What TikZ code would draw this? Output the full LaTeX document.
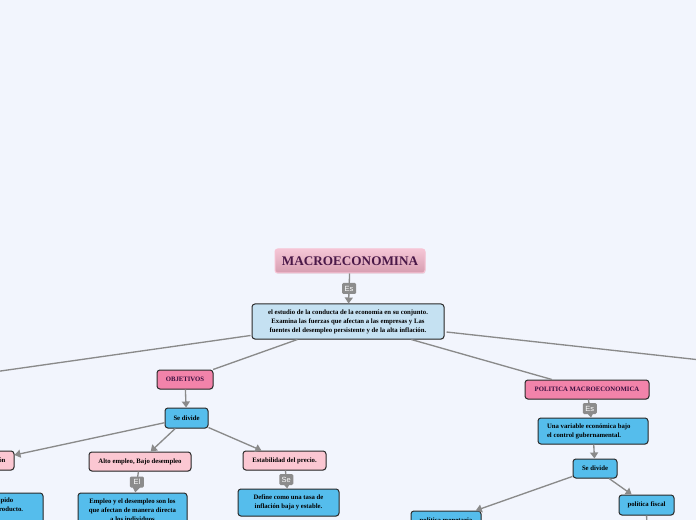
\documentclass[tikz,border=0pt]{standalone}
\usepackage{fontspec}
\setmainfont{Liberation Serif}
\newfontfamily\lblfont{Liberation Sans}
\usetikzlibrary{arrows.meta,calc,shadows}
\definecolor{bg}{HTML}{F2F5FD}
\definecolor{linegray}{HTML}{8A8A8A}
\definecolor{lblgray}{HTML}{8C8C8C}
\definecolor{boxborder}{HTML}{2A2A2A}
\definecolor{mainfill}{HTML}{C5E1F2}
\definecolor{bluefill}{HTML}{55BDEC}
\definecolor{pinkfill}{HTML}{F283AA}
\definecolor{lightpink}{HTML}{FBC7D2}
\definecolor{titletop}{HTML}{F5C6D6}
\definecolor{titlebot}{HTML}{D69DB0}
\definecolor{titleborder}{HTML}{F7C3D4}
\definecolor{titletext}{HTML}{4A1848}
\definecolor{objtext}{HTML}{3A1040}
\begin{document}
\begin{tikzpicture}[x=0.75pt,y=-0.75pt,
  base/.style={rectangle, rounded corners=2.2pt, draw=boxborder, line width=0.75pt,
    inner sep=0pt, align=center, text=black,
    font=\fontsize{5.05pt}{6.7pt}\selectfont\bfseries,
    drop shadow={opacity=0.18, shadow xshift=0.4pt, shadow yshift=-0.7pt}},
  mainbox/.style={base, fill=mainfill},
  bluebox/.style={base, fill=bluefill},
  pinkbox/.style={base, fill=pinkfill, text=objtext},
  lpinkbox/.style={base, fill=lightpink},
  titlebox/.style={rectangle, rounded corners=2pt, draw=titleborder, line width=0.75pt,
    top color=titletop, bottom color=titlebot, text=titletext,
    font=\fontsize{9.9pt}{12pt}\selectfont\bfseries, inner sep=0pt,
    drop shadow={opacity=0.15, shadow xshift=0.4pt, shadow yshift=-0.7pt}},
  conn/.style={draw=linegray, line width=1pt},
  arr/.style={conn, -{Triangle[length=4.5pt,width=6pt]}},
  lbl/.style={rectangle, rounded corners=1pt, fill=lblgray, text=white,
    font=\fontsize{5.6pt}{6pt}\lblfont, inner sep=1pt,
    minimum width=10.5pt, minimum height=8.25pt}
]
\useasboundingbox[fill=bg] (0,0) rectangle (696,520);

% nodes
\node[titlebox, minimum width=112.5pt, minimum height=18pt] (title) at (350,261) {MACROECONOMINA};
\node[mainbox, minimum width=144pt, minimum height=26.25pt] (main) at (348,321.5)
  {el estudio de la conducta de la economía en su conjunto.\\
   Examina las fuerzas que afectan a las empresas y Las\\
   fuentes del desempleo persistente y de la alta inflación.};

\node[pinkbox, minimum width=42pt, minimum height=14.25pt] (obj) at (185,379.5) {OBJETIVOS};
\node[bluebox, minimum width=32.25pt, minimum height=15pt] (sdL) at (186.5,418) {Se divide};

\node[lpinkbox, minimum width=37.5pt, minimum height=14.25pt] (prod) at (-11,460.5) {Producción};
\node[bluebox, minimum width=84.75pt, minimum height=26.25pt] (crec) at (-13.5,510.5)
  {Alto nivel y rápido\\ crecimiento del producto.\\ \strut};

\node[lpinkbox, minimum width=76.5pt, minimum height=14.25pt] (alto) at (140,461.5) {Alto empleo, Bajo desempleo};
\node[bluebox, minimum width=81.75pt, minimum height=26.25pt] (empleo) at (132.5,510.5)
  {Empleo y el desempleo son los\\ que afectan de manera directa\\ a los individuos};

\node[lpinkbox, minimum width=62.25pt, minimum height=14.25pt] (estab) at (284.5,460.5) {Estabilidad del precio.};
\node[bluebox, minimum width=75.75pt, minimum height=20.25pt] (define) at (288.5,502.5)
  {Define como una tasa de\\ inflación baja y estable.};

\node[pinkbox, minimum width=93pt, minimum height=14.25pt] (pol) at (587,389.5) {POLITICA MACROECONOMICA};
\node[bluebox, minimum width=82.5pt, minimum height=19.5pt, align=left] (una) at (593,431)
  {\parbox{69pt}{Una variable económica bajo\\ el control gubernamental.}};
\node[bluebox, minimum width=33pt, minimum height=14.25pt] (sdR) at (595,468.5) {Se divide};
\node[bluebox, minimum width=52.5pt, minimum height=15pt] (polmon) at (446,521) {política monetaria};
\node[bluebox, minimum width=41.25pt, minimum height=15pt] (fiscal) at (646.5,505) {política fiscal};

\coordinate (offL) at (-100,385.3);
\coordinate (offR) at (796,370.5);
\coordinate (offD) at (647,545);

% connectors
\path[arr] (title) -- (main) node[lbl, pos=0.5] {Es};
\draw[conn] ($(main.south west)+(-1,-4)$) -- (offL);
\draw[conn] ($(main.east)+(2,10.5)$) -- (offR);
\draw[conn] (main) -- (obj);
\draw[conn] (main) -- (pol);

\draw[arr] (obj) -- (sdL);
\draw[arr] (sdL) -- (prod);
\draw[arr] (sdL) -- (alto);
\draw[arr] (sdL) -- (estab);
\path[arr] (alto) -- (empleo) node[lbl, pos=0.5] {El};
\path[arr] (estab) -- (define) node[lbl, pos=0.5] {Se};

\path[arr] (pol) -- (una) node[lbl, pos=0.5] {Es};
\draw[arr] (una) -- (sdR);
\draw[arr] (sdR) -- (polmon);
\draw[arr] (sdR) -- (fiscal);
\draw[conn] (fiscal) -- (offD);
\end{tikzpicture}
\end{document}
